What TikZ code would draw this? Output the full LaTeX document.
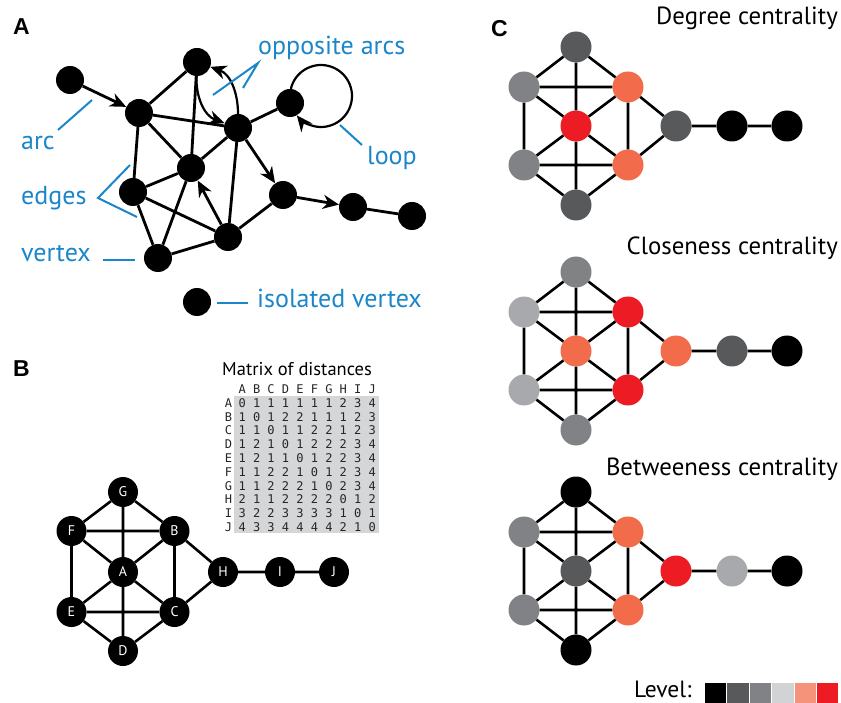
\documentclass[tikz,border=0pt]{standalone}
\usepackage{fontspec}
\setmainfont{PT Sans}
\newfontfamily\panelfont{Liberation Sans}
\newfontfamily\matfont{DejaVu Sans Mono}
\usetikzlibrary{arrows.meta}
\definecolor{lblue}{HTML}{1B86C9}
\definecolor{gDark}{HTML}{58595B}
\definecolor{gMid}{HTML}{808285}
\definecolor{gLight}{HTML}{A7A9AC}
\definecolor{nOrange}{HTML}{F26B4B}
\definecolor{nRed}{HTML}{ED1C24}
\definecolor{lgLight}{HTML}{D1D3D4}
\definecolor{lgSalmon}{HTML}{F4937A}
\definecolor{matbg}{HTML}{D5D6D7}
\begin{document}
\begin{tikzpicture}[x=1pt,y=1pt,
  vtx/.style={circle,fill=black,minimum size=28pt,inner sep=0pt},
  bvtx/.style={circle,fill=black,minimum size=30pt,inner sep=0pt,text=white,font=\fontsize{14}{14}\selectfont},
  cvtx/.style={circle,minimum size=31pt,inner sep=0pt},
  aedge/.style={line width=2.8pt},
  bedge/.style={line width=2.6pt},
  arr/.style={line width=2.8pt,-{Stealth[length=16pt,width=14pt,inset=5pt]}},
  thinarr/.style={line width=2.2pt,-{Stealth[length=16pt,width=14pt,inset=5pt]}},
  lbl/.style={text=lblue,font=\fontsize{26}{26}\selectfont,anchor=base west,inner sep=0pt},
  lline/.style={draw=lblue,line width=2pt},
  plabel/.style={font=\panelfont\bfseries\fontsize{23}{23}\selectfont,anchor=base west,inner sep=0pt},
  ttl/.style={font=\fontsize{24.8}{25}\selectfont,anchor=base east,inner sep=0pt},
  mrow/.style={font=\matfont\fontsize{12}{12}\selectfont,text=black!85,anchor=west,inner sep=0pt},
  mlab/.style={font=\matfont\fontsize{12}{12}\selectfont,text=black!85,inner sep=0pt},
]
\useasboundingbox (0,0) rectangle (841,-703);

% ---------------- Panel A ----------------
\node[plabel] (labA) at (13,-35) {A};
\node[vtx] (a1) at (70,-80) {};
\node[vtx] (a2) at (139,-113) {};
\node[vtx] (a3) at (197,-62) {};
\node[vtx] (a4) at (238,-128) {};
\node[vtx] (a5) at (290,-103) {};
\node[vtx] (a6) at (191,-168) {};
\node[vtx] (a7) at (133,-192) {};
\node[vtx] (a8) at (283,-195) {};
\node[vtx] (a9) at (353,-207) {};
\node[vtx] (a10) at (412,-216) {};
\node[vtx] (a11) at (228,-237) {};
\node[vtx] (a12) at (158,-258) {};
\node[vtx] (aiso) at (197,-302) {};

\draw[aedge] (a2)--(a3) (a2)--(a4) (a2)--(a7) (a2)--(a6) (a3)--(a6)
  (a4)--(a5) (a4)--(a6) (a4)--(a11) (a6)--(a7) (a6)--(a12)
  (a7)--(a11) (a7)--(a12) (a8)--(a11) (a9)--(a10) (a11)--(a12);
\draw[arr] (a1)--(a2);
\draw[arr] (a4)--(a8);
\draw[arr] (a8)--(a9);
\draw[arr] (a11)--(a6);
\draw[thinarr] (a3) to[out=-92,in=160] (a4);
\draw[thinarr] (a4) to[out=90,in=-20] (a3);
\coordinate (lc) at (321,-96);
\draw[thinarr] ([shift={(166.7:31)}]lc) arc[start angle=166.7,end angle=-141.3,radius=31];

% labels
\node[lbl] (tOpp) at (258,-55) {opposite arcs};
\node[lbl] (tArc) at (21,-150) {arc};
\node[lbl] (tLoop) at (367,-165) {loop};
\node[lbl] (tEdges) at (21,-205) {edges};
\node[lbl] (tVertex) at (21,-262) {vertex};
\node[lbl] (tIso) at (257,-308) {isolated vertex};
\coordinate (o0) at (258,-63);
\coordinate (o1) at (213,-95);
\coordinate (o2) at (243,-88);
\coordinate (r0) at (58,-130);
\coordinate (r1) at (92,-100);
\coordinate (l0) at (340,-125);
\coordinate (l1) at (362,-145);
\coordinate (e0) at (98,-198);
\coordinate (e1) at (130,-165);
\coordinate (e2) at (137,-217);
\coordinate (v0) at (103,-260);
\coordinate (v1) at (135,-260);
\coordinate (i0) at (217,-303);
\coordinate (i1) at (248,-303);
\draw[lline] (o1)--(o0)--(o2);
\draw[lline] (r0)--(r1);
\draw[lline] (l0)--(l1);
\draw[lline] (e1)--(e0)--(e2);
\draw[lline] (v0)--(v1);
\draw[lline] (i0)--(i1);

% ---------------- Panel B ----------------
\node[plabel] (labB) at (13,-377) {B};
\node[font=\fontsize{18.5}{18.5}\selectfont,anchor=base west,inner sep=0pt] (mtitle) at (222,-376) {Matrix of distances};
\fill[matbg] (234,-396) rectangle (379,-533);
\node[mrow] (mhead) at (238.4,-389) {A B C D E F G H I J};
\foreach \i/\l/\row in {0/A/0 1 1 1 1 1 1 2 3 4,
                        1/B/1 0 1 2 2 1 1 1 2 3,
                        2/C/1 1 0 1 1 2 2 1 2 3,
                        3/D/1 2 1 0 1 2 2 2 3 4,
                        4/E/1 2 1 1 0 1 2 2 3 4,
                        5/F/1 1 2 2 1 0 1 2 3 4,
                        6/G/1 1 2 2 2 1 0 2 3 4,
                        7/H/2 1 1 2 2 2 2 0 1 2,
                        8/I/3 2 2 3 3 3 3 1 0 1,
                        9/J/4 3 3 4 4 4 4 2 1 0}{
  \node[mlab] (ml\l) at (228.5,{-403-13.8*\i}) {\l};
  \node[mrow] (mr\l) at (238.4,{-403-13.8*\i}) {\row};
}

\node[bvtx] (bA) at (123,-572) {A};
\node[bvtx] (bG) at (123,-492) {G};
\node[bvtx] (bD) at (123,-651) {D};
\node[bvtx] (bF) at (71.5,-531) {F};
\node[bvtx] (bB) at (174.5,-531) {B};
\node[bvtx] (bE) at (71.5,-612) {E};
\node[bvtx] (bC) at (174.5,-612) {C};
\node[bvtx] (bH) at (223,-572) {H};
\node[bvtx] (bI) at (280,-572) {I};
\node[bvtx] (bJ) at (334,-572) {J};
\draw[bedge] (bG)--(bF) (bG)--(bB) (bG)--(bA) (bF)--(bB) (bF)--(bA) (bF)--(bE)
  (bB)--(bA) (bB)--(bC) (bB)--(bH) (bA)--(bE) (bA)--(bC) (bA)--(bD)
  (bE)--(bC) (bE)--(bD) (bC)--(bD) (bC)--(bH) (bH)--(bI) (bI)--(bJ);

% ---------------- Panel C ----------------
\node[plabel] (labC) at (491,-37) {C};
\node[ttl] (tDeg) at (838,-25) {Degree centrality};
\node[ttl] (tClo) at (838,-255) {Closeness centrality};
\node[ttl] (tBet) at (838,-475) {Betweeness centrality};

\foreach \k/\dy/\qa/\qb/\qc/\qd/\qe/\qf/\qg/\qh/\qi/\qj in {
  d/0/nRed/nOrange/nOrange/gDark/gMid/gMid/gDark/gDark/black/black,
  c/225/nOrange/nRed/nRed/gMid/gLight/gLight/gMid/nOrange/gDark/black,
  b/445/gDark/nOrange/nOrange/black/gMid/gMid/black/nRed/gLight/black}{
  \begin{scope}[yshift=-\dy pt]
    \node[cvtx,fill=\qa] (\k A) at (576,-126) {};
    \node[cvtx,fill=\qb] (\k B) at (628,-87) {};
    \node[cvtx,fill=\qc] (\k C) at (628,-165) {};
    \node[cvtx,fill=\qd] (\k D) at (576,-205) {};
    \node[cvtx,fill=\qe] (\k E) at (524,-165) {};
    \node[cvtx,fill=\qf] (\k F) at (524,-87) {};
    \node[cvtx,fill=\qg] (\k G) at (576,-47) {};
    \node[cvtx,fill=\qh] (\k H) at (676,-126) {};
    \node[cvtx,fill=\qi] (\k I) at (732,-126) {};
    \node[cvtx,fill=\qj] (\k J) at (787,-126) {};
  \end{scope}
  \draw[bedge] (\k G)--(\k F) (\k G)--(\k B) (\k G)--(\k A) (\k F)--(\k B) (\k F)--(\k A) (\k F)--(\k E)
    (\k B)--(\k A) (\k B)--(\k C) (\k B)--(\k H) (\k A)--(\k E) (\k A)--(\k C) (\k A)--(\k D)
    (\k E)--(\k C) (\k E)--(\k D) (\k C)--(\k D) (\k C)--(\k H) (\k H)--(\k I) (\k I)--(\k J);
}

% legend
\node[font=\fontsize{23.5}{24}\selectfont,anchor=base west,inner sep=0pt,text depth=0pt] (tLev) at (634,-697) {Level:};
\foreach \i/\c in {0/black,1/gDark,2/gMid,3/lgLight,4/lgSalmon,5/nRed}{
  \fill[\c] ({705+22.4*\i},-683) rectangle ++(21.4,-20);
}
\end{tikzpicture}
\end{document}
